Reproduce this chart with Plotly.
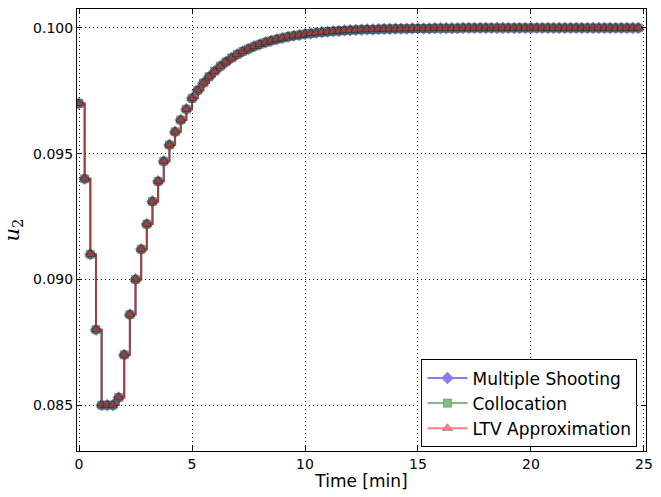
import plotly.graph_objects as go

# Time grid (min): control intervals of 0.25 min
time_min = [i * 0.25 for i in range(100)]

# u2 values (same for the three methods, visually identical)
u2_multiple_shooting = [
    0.0970, 0.0940, 0.0910, 0.0880, 0.0850, 0.0850, 0.0850, 0.0853, 0.0870, 0.0886,
    0.0900, 0.0912, 0.0922, 0.0931, 0.0939, 0.0947, 0.09535, 0.09587, 0.09634, 0.09677,
    0.09720, 0.09752, 0.09781, 0.09806, 0.09828, 0.09848, 0.09865, 0.09881, 0.09895, 0.09907,
    0.09917, 0.09927, 0.09935, 0.09943, 0.09949, 0.09955, 0.09960, 0.09965, 0.09969, 0.09972,
    0.09976, 0.09978, 0.09981, 0.09983, 0.09985, 0.09987, 0.09988, 0.09990, 0.09991, 0.09992,
    0.09993, 0.09994, 0.09994, 0.09995, 0.09996, 0.09996, 0.09997, 0.09997, 0.09997, 0.09998,
    0.09998, 0.09998, 0.09998, 0.09999, 0.09999, 0.09999, 0.09999, 0.09999, 0.10000, 0.10000,
    0.10000, 0.10000, 0.10000, 0.10000, 0.10000, 0.10000, 0.10000, 0.10000, 0.10000, 0.10000,
    0.10000, 0.10000, 0.10000, 0.10000, 0.10000, 0.10000, 0.10000, 0.10000, 0.10000, 0.10000,
    0.10000, 0.10000, 0.10000, 0.10000, 0.10000, 0.10000, 0.10000, 0.10000, 0.10000, 0.10000,
]
u2_collocation = list(u2_multiple_shooting)
u2_ltv = list(u2_multiple_shooting)

x_ticks = [0, 5, 10, 15, 20, 25]
y_ticks = [0.085, 0.090, 0.095, 0.100]

series = [
    ("Multiple Shooting", u2_multiple_shooting, "rgb(0,0,255)", "diamond", 9),
    ("Collocation", u2_collocation, "rgb(0,128,0)", "square", 8),
    ("LTV Approximation", u2_ltv, "rgb(255,0,0)", "triangle-up", 9),
]

fig = go.Figure()
for name, vals, color, sym, size in series:
    fig.add_trace(go.Scatter(
        x=time_min, y=vals, name=name, mode="lines+markers",
        line=dict(color=color, width=2, shape="hv"),
        marker=dict(symbol=sym, size=size, color=color,
                    line=dict(color="black", width=0.7)),
        opacity=0.5,
    ))

axis_common = dict(
    showline=True, linecolor="black", linewidth=1, mirror="allticks",
    ticks="inside", ticklen=5, tickcolor="black", tickwidth=1,
    showgrid=True, gridcolor="black", gridwidth=1, griddash="1px,3px",
    zeroline=False, tickfont=dict(family="DejaVu Sans", size=14, color="black"),
)

fig.update_xaxes(
    range=[-0.09, 25.09], tickvals=x_ticks, ticktext=[str(v) for v in x_ticks],
    title=dict(text="Time [min]", font=dict(family="DejaVu Sans", size=17, color="black"),
               standoff=4),
    **axis_common,
)
fig.update_yaxes(
    range=[0.083175, 0.100754], tickvals=y_ticks, ticktext=[f"{v:.3f}" for v in y_ticks],
    title=dict(text="<i>u</i><sub>2</sub>",
               font=dict(family="DejaVu Serif", size=21, color="black"), standoff=10),
    **axis_common,
)

fig.update_layout(
    width=661, height=497,
    margin=dict(l=71, r=12, t=8, b=46),
    paper_bgcolor="white", plot_bgcolor="white",
    font=dict(family="DejaVu Sans", color="black"),
    legend=dict(
        x=0.985, y=0.008, xanchor="right", yanchor="bottom",
        bgcolor="white", bordercolor="black", borderwidth=1,
        font=dict(family="DejaVu Sans", size=17, color="black"),
        tracegroupgap=0, itemwidth=40,
    ),
    showlegend=True,
)

fig.write_html("out.html")
